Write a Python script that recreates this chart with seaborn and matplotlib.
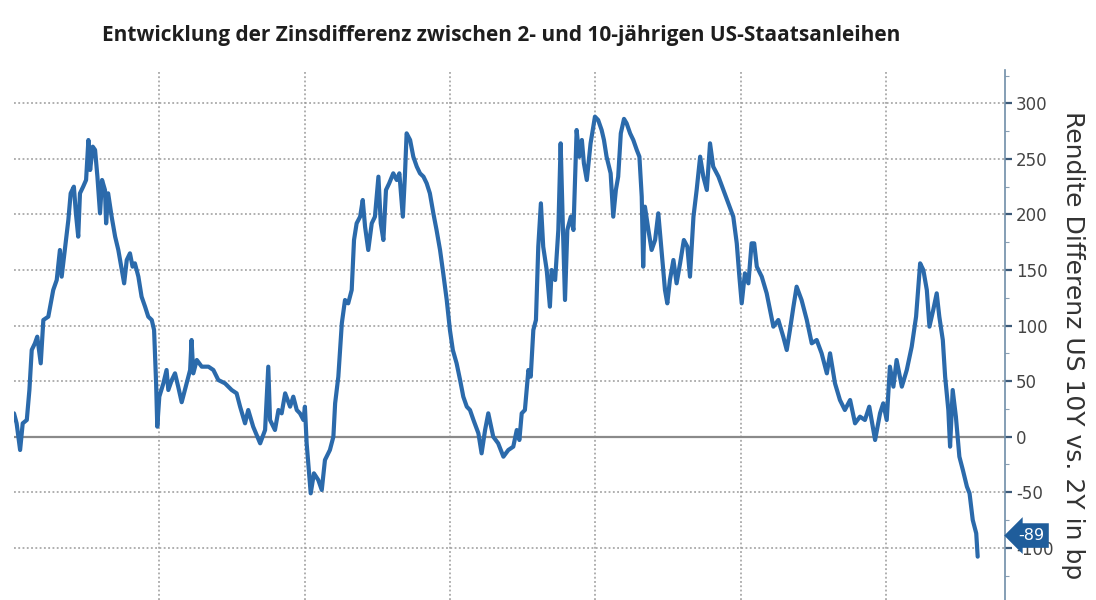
import numpy as np
import seaborn as sns
import matplotlib.pyplot as plt
import matplotlib.transforms as mtransforms

years = [
    1990.00, 1990.09, 1990.21, 1990.30, 1990.44, 1990.53, 1990.61, 1990.72, 1990.80, 1990.92,
    1991.01, 1991.18, 1991.35, 1991.47, 1991.58, 1991.64, 1991.75, 1991.87, 1991.95, 1992.06,
    1992.13, 1992.21, 1992.27, 1992.38, 1992.48, 1992.56, 1992.62, 1992.71, 1992.79, 1992.87,
    1992.96, 1993.03, 1993.13, 1993.17, 1993.24, 1993.36, 1993.48, 1993.59, 1993.71, 1993.79,
    1993.88, 1993.99, 1994.08, 1994.16, 1994.28, 1994.39, 1994.51, 1994.62, 1994.74, 1994.82,
    1994.89, 1994.93, 1995.00, 1995.14, 1995.25, 1995.31, 1995.43, 1995.54, 1995.65, 1995.77,
    1995.94, 1996.06, 1996.11, 1996.17, 1996.29, 1996.46, 1996.69, 1996.86, 1997.03, 1997.26,
    1997.49, 1997.66, 1997.78, 1997.95, 1998.06, 1998.23,
    1998.47, 1998.64, 1998.75, 1998.81, 1998.98, 1999.10, 1999.21, 1999.33, 1999.50, 1999.61,
    1999.73, 1999.84, 1999.96, 2000.01, 2000.07, 2000.21, 2000.32, 2000.47, 2000.59, 2000.70,
    2000.87, 2000.99, 2001.05, 2001.16, 2001.28, 2001.39, 2001.50, 2001.62, 2001.70, 2001.79,
    2001.91, 2002.00, 2002.08, 2002.19, 2002.31, 2002.42, 2002.54, 2002.62, 2002.71, 2002.80,
    2002.91, 2003.05, 2003.17, 2003.26, 2003.38, 2003.45, 2003.51, 2003.63, 2003.74, 2003.86,
    2003.97, 2004.09, 2004.20, 2004.31, 2004.43, 2004.54, 2004.66, 2004.77, 2004.89, 2005.00,
    2005.10, 2005.23, 2005.35, 2005.46, 2005.58, 2005.69, 2005.81, 2005.98, 2006.09, 2006.21,
    2006.32, 2006.49, 2006.66,
    2006.84, 2007.01, 2007.18, 2007.30, 2007.39, 2007.47, 2007.58, 2007.70, 2007.78, 2007.87,
    2007.96, 2008.04, 2008.13, 2008.21, 2008.33, 2008.44, 2008.50, 2008.62, 2008.73, 2008.81,
    2008.88, 2008.96, 2009.04, 2009.16, 2009.25, 2009.36, 2009.45, 2009.54, 2009.61, 2009.71,
    2009.84, 2009.99, 2010.10, 2010.22, 2010.30, 2010.39, 2010.53, 2010.62, 2010.71, 2010.79,
    2010.88, 2010.99, 2011.08, 2011.20, 2011.31, 2011.43, 2011.52, 2011.60, 2011.65, 2011.71,
    2011.83, 2011.94, 2012.06, 2012.17, 2012.29, 2012.40, 2012.48, 2012.57, 2012.69, 2012.80,
    2012.92, 2013.05, 2013.17, 2013.26, 2013.38, 2013.49, 2013.61, 2013.72, 2013.84, 2013.95,
    2014.06, 2014.24, 2014.41, 2014.58, 2014.75,
    2014.87, 2014.96, 2015.04, 2015.15, 2015.27, 2015.38, 2015.47, 2015.56, 2015.73, 2015.90,
    2016.13, 2016.30, 2016.47, 2016.59, 2016.70, 2016.82, 2016.93, 2017.10, 2017.28, 2017.45,
    2017.62, 2017.79, 2017.97, 2018.08, 2018.25, 2018.42, 2018.59, 2018.77, 2018.94, 2019.11,
    2019.28, 2019.43, 2019.63, 2019.80, 2019.91, 2020.03, 2020.14, 2020.26, 2020.37, 2020.55,
    2020.72, 2020.89, 2021.04, 2021.18, 2021.29, 2021.41, 2021.50, 2021.63, 2021.75, 2021.84,
    2021.96, 2022.04, 2022.15, 2022.21, 2022.30, 2022.41, 2022.53, 2022.65, 2022.79, 2022.88,
    2022.99, 2023.11, 2023.16,
]
spread = [
    21, 12, -12, 12, 15, 42, 78, 84, 90, 66,
    105, 108, 132, 141, 168, 144, 168, 195, 219, 225,
    201, 180, 219, 225, 231, 267, 240, 261, 258, 234,
    201, 231, 222, 192, 219, 198, 180, 168, 150, 138,
    159, 165, 153, 156, 144, 126, 117, 108, 105, 96,
    48, 9, 36, 48, 60, 42, 51, 57, 45, 31,
    48, 60, 87, 57, 69, 63, 63, 60, 51, 48,
    42, 39, 27, 12, 24, 9,
    -6, 6, 63, 15, 6, 24, 21, 39, 27, 36,
    24, 21, 15, 27, -6, -51, -33, -39, -48, -21,
    -12, 0, 30, 54, 102, 123, 120, 132, 177, 192,
    198, 213, 189, 168, 192, 198, 234, 192, 177, 222,
    228, 237, 231, 237, 198, 234, 273, 267, 252, 243,
    237, 234, 228, 219, 201, 186, 168, 147, 123, 96,
    78, 66, 51, 36, 27, 24, 15, 3, -15, 6,
    21, 0, -6,
    -18, -12, -9, 6, -3, 21, 24, 60, 54, 96,
    105, 171, 210, 171, 150, 117, 150, 141, 186, 264,
    195, 123, 186, 198, 186, 276, 252, 267, 246, 231,
    264, 288, 285, 276, 267, 252, 237, 198, 222, 234,
    273, 286, 282, 273, 267, 258, 252, 216, 153, 207,
    186, 168, 177, 201, 165, 132, 120, 141, 159, 138,
    156, 177, 171, 144, 198, 222, 252, 234, 222, 264,
    243, 234, 222, 210, 198,
    174, 144, 120, 147, 138, 174, 174, 153, 144, 129,
    99, 105, 90, 78, 96, 117, 135, 123, 105, 84,
    87, 75, 57, 75, 48, 33, 24, 33, 12, 18,
    15, 27, -3, 21, 30, 15, 63, 45, 69, 45,
    60, 81, 108, 156, 150, 132, 99, 114, 129, 108,
    87, 54, 24, -9, 42, 18, -18, -30, -45, -51,
    -75, -87, -108,
]
last_value = -89
y_ticks = [300, 250, 200, 150, 100, 50, 0, -50, -100]
x_grid = [1995, 2000, 2005, 2010, 2015, 2020]

title = "Entwicklung der Zinsdifferenz zwischen 2- und 10-jährigen US-Staatsanleihen"
ylabel = "Rendite Differenz US 10Y vs. 2Y in bp"

sns.set_style("white")
plt.rcParams['font.family'] = ['DejaVu Sans']

line_col = '#2b6aab'
grid_col = '#9a9a9a'

fig = plt.figure(figsize=(10.96, 6.0), dpi=100)
ax = fig.add_axes([14 / 1096, 0.0, 991 / 1096, 530 / 600])

sns.lineplot(x=years, y=spread, ax=ax, color=line_col, linewidth=3.0,
             estimator=None, sort=False, zorder=4)

ax.set_xlim(1990.0, 2024.1)
ax.set_ylim(-147, 330)

# gitter
for yv in y_ticks:
    if yv == 0:
        ax.axhline(0, color='#8a8a8a', lw=1.6, zorder=2)
    else:
        ax.axhline(yv, color=grid_col, lw=1.1, ls=(0, (1.2, 1.6)), zorder=1)
for xv in x_grid:
    ax.axvline(xv, color=grid_col, lw=1.1, ls=(0, (1.2, 1.6)), zorder=1)

for s in ['left', 'top', 'bottom']:
    ax.spines[s].set_visible(False)
ax.spines['right'].set_color('#6f8ea8')
ax.spines['right'].set_linewidth(1.2)

ax.set_xticks([])
ax.yaxis.tick_right()
ax.set_yticks(y_ticks)
ax.set_yticklabels([str(v) for v in y_ticks])
ax.set_yticks(np.arange(-125, 330, 25), minor=True)
ax.tick_params(axis='y', which='major', direction='out', length=5, width=1.6,
               color='#3d5a78', labelsize=12, labelcolor='#444444', pad=3)
ax.tick_params(axis='y', which='minor', direction='out', length=3, width=0.8,
               color='#8a9fb3')

ax.set_ylabel(ylabel, rotation=270, fontsize=18, color='#333333')
ax.yaxis.set_label_position('right')
ax.yaxis.set_label_coords(1.081, 0.481)

# letzter wert als fahne
trans = mtransforms.blended_transform_factory(ax.transAxes, ax.transData)
ax.text(1.013, last_value, str(last_value), transform=trans, ha='left', va='center',
        fontsize=11.5, color='white', zorder=10, clip_on=False,
        bbox=dict(boxstyle='larrow,pad=0.3', fc='#1f5d9b', ec='none'))

fig.text(501 / 1096, 1 - 36 / 600, title, ha='center', va='center',
         fontsize=15, fontweight='bold', color='#1e1e1e', family=['Open Sans', 'DejaVu Sans'])

fig.savefig('out.png', dpi=100)
